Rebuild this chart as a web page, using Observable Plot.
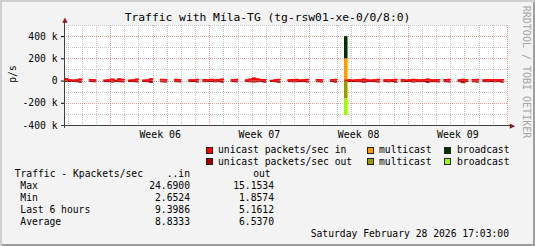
<!DOCTYPE html>
<html><head><meta charset="utf-8">
<script src="https://cdn.jsdelivr.net/npm/d3@7"></script>
<script src="https://cdn.jsdelivr.net/npm/@observablehq/plot@0.6"></script>
<style>
html,body{margin:0;padding:0;background:#fff}
#chart{position:relative;width:535px;height:246px;background:#f3f3f3;overflow:hidden;
  box-shadow: inset 2px 2px 0 #cfcfcf, inset -2px -2px 0 #9e9e9e;
  font-family:"DejaVu Sans Mono",monospace;font-size:9.7px;color:#000}
#chart svg{position:absolute;left:0;top:0}
.t{position:absolute;white-space:pre;line-height:12px}
.r{text-align:right}
.sq{position:absolute;width:5px;height:5px;border:1px solid #222}
</style></head>
<body>
<div id="chart"></div>
<script>
// ---- data (k packets/sec), one value per 6-hour slot starting Thu 29 Jan 2026 18:00; null = no data ----
const unicastIn = [
  20, 9, 8, 10, 16, null, null, 12, 10, null,
  null, 8, 9, 17, 6, 18, 14, null, 7, 9,
  16, null, 8, 10, 18, null, null, 15, 12, null,
  null, 14, 11, null, null, 9, 10, 15, null, 12,
  10, 15, 9, 11, 16, null, null, 11, 14, null,
  null, 10, 16, 24.69, 18, 11, 13, null, 6, 10,
  15, null, null, 9, 12, 14, 8, 10, 15, null,
  null, 13, 11, null, null, 12, 14, null, null, 10,
  9, 8, 11, 10, 17, 9, 8, 10, 14, null,
  9, 11, 10, 15, null, 12, 8, 9, 14, 10,
  9, 11, 16, 10, 9, 13, null, 12, 14, null,
  null, 10, 15, 11, null, 13, 14, null, 9, 12,
  10, 11, 9, 13, null
];
const unicastOut = [
  5, 4, 3, 6, 11, null, null, 5, 7, null,
  null, 4, 5, 9, 3, 6, 8, null, 4, 5,
  8, null, 4, 6, 12, null, null, 7, 9, null,
  null, 6, 8, null, null, 5, 4, 9, null, 6,
  5, 4, 7, 5, 10, null, null, 5, 8, null,
  null, 5, 7, 9, 6, 5, 10, null, 4, 6,
  11, null, null, 5, 7, 6, 4, 5, 9, null,
  null, 6, 9, null, null, 5, 10, null, null, 6,
  5, 4, 5, 6, 11, 5, 4, 6, 9, null,
  5, 7, 5, 10, null, 6, 4, 5, 9, 5,
  6, 4, 12, 5, 6, 8, null, 6, 9, null,
  null, 6, 15.15, 5, null, 7, 9, null, 5, 6,
  4, 7, 5, 10, null
];
// multicast / broadcast burst (only non-zero slot)
const burstSlot = [79];
const multicastIn = [190];
const broadcastIn = [200];
const multicastOut = [155];
const broadcastOut = [150];

const yMajor = [-400, -200, 0, 200, 400];
const yMinor = [-300, -100, 100, 300, 500];
const weekLabels = ["Week 06", "Week 07", "Week 08", "Week 09"];

const statLabels = ["Max", "Min", "Last 6 hours", "Average"];
const statIn = ["24.6900", "2.6524", "9.3986", "8.8333"];
const statOut = ["15.1534", "1.8574", "5.1612", "6.5370"];

const colors = {uin:"#ff0000", uout:"#a00000", min:"#ff9900", mout:"#999900", bin:"#003300", bout:"#99ff00"};

// ---- build tables ----
const H = 3600e3;
const t0 = new Date(Date.UTC(2026, 0, 29, 18));
const slotTime = i => new Date(+t0 + i * 6 * H);
const tEnd = slotTime(unicastIn.length);

function stepped(vals, sign) {
  const rows = [];
  vals.forEach((v, i) => {
    if (v == null) { rows.push({t: slotTime(i), lo: NaN, hi: NaN}); return; }
    rows.push({t: slotTime(i), lo: 0, hi: sign * v}, {t: slotTime(i + 1), lo: 0, hi: sign * v});
  });
  return rows;
}
function burst(baseVals, first, second, sign) {
  const a = [], b = [];
  burstSlot.forEach((s, k) => {
    const u = sign * baseVals[s], m = sign * first[k], bb = sign * second[k];
    a.push({t: slotTime(s), lo: u, hi: u + m}, {t: slotTime(s + 1), lo: u, hi: u + m});
    b.push({t: slotTime(s), lo: u + m, hi: u + m + bb}, {t: slotTime(s + 1), lo: u + m, hi: u + m + bb});
  });
  return [a, b];
}
const uin = stepped(unicastIn, 1), uout = stepped(unicastOut, -1);
const [minR, binR] = burst(unicastIn, multicastIn, broadcastIn, 1);
const [moutR, boutR] = burst(unicastOut, multicastOut, broadcastOut, -1);

const days = d3.utcDay.range(d3.utcDay.ceil(t0), tEnd).filter(d => d.getUTCDay() !== 1);
const mondays = d3.utcMonday.range(t0, new Date(+tEnd + 1));
const weekMid = weekLabels.map((w, i) => ({label: w, t: new Date(+mondays[i] + 3.5 * 24 * H)}));

const area = (rows, fill) => Plot.area(rows, {x1: "t", y1: "lo", y2: "hi", fill});
const edge = (rows, stroke, w) => Plot.line(rows, {x: "t", y: "hi", stroke, strokeWidth: w, strokeLinejoin: "miter", strokeLinecap: "butt"});

const plot = Plot.plot({
  width: 535, height: 140,
  marginLeft: 64, marginRight: 28, marginTop: 25, marginBottom: 15,
  style: {background: "transparent", fontFamily: "DejaVu Sans Mono", fontSize: "9.7px", color: "#000"},
  x: {type: "utc", domain: [t0, tEnd], axis: null},
  y: {domain: [-400, 500], ticks: yMajor, tickFormat: d => d === 0 ? "0" : `${d} k`, tickSize: 3, tickPadding: 4, label: null},
  marks: [
    Plot.frame({fill: "white", stroke: "none"}),
    Plot.ruleX(days, {stroke: "#c4c4c4", strokeDasharray: "1,1", shapeRendering: "crispEdges"}),
    Plot.ruleY(yMinor, {stroke: "#c4c4c4", strokeDasharray: "1,1", shapeRendering: "crispEdges"}),
    Plot.ruleX(mondays, {stroke: "#e39a9a", strokeDasharray: "1,1", shapeRendering: "crispEdges"}),
    Plot.ruleY(yMajor, {stroke: "#e39a9a", strokeDasharray: "1,1", shapeRendering: "crispEdges"}),
    area(uout, colors.uout),
    edge(uout, colors.uout, 1),
    area(uin, colors.uin),
    edge(uin, colors.uin, 1.4),
    area(minR, colors.min),
    area(binR, colors.bin),
    area(moutR, colors.mout),
    area(boutR, colors.bout),
    Plot.ruleX([t0], {stroke: "#404040", insetTop: -5, insetBottom: -3, shapeRendering: "crispEdges"}),
    Plot.ruleY([-400], {stroke: "#404040", insetLeft: -3, insetRight: -4, shapeRendering: "crispEdges"}),
    Plot.text(["▲"], {frameAnchor: "top-left", textAnchor: "middle", lineAnchor: "middle", dx: 0.5, dy: -6, fill: "#8b1a1a", fontSize: 7, fontFamily: "DejaVu Sans"}),
    Plot.text(["▶"], {frameAnchor: "bottom-right", textAnchor: "middle", lineAnchor: "middle", dx: 5, dy: 0.5, fill: "#8b1a1a", fontSize: 7, fontFamily: "DejaVu Sans"}),
    Plot.text(weekMid, {x: "t", frameAnchor: "bottom", text: "label", lineAnchor: "middle", dy: 9, fontSize: 9.9})
  ]
});
const chart = document.getElementById("chart");
chart.appendChild(plot);

// ---- texts around the plot ----
function txt(s, css, cls = "t") {
  const d = document.createElement("div");
  d.className = cls; d.textContent = s; d.style.cssText = css; chart.appendChild(d); return d;
}
txt("Traffic with Míla-TG (tg-rsw01-xe-0/0/8:0)", "left:0;width:535px;text-align:center;top:10.5px;font-size:11.3px;line-height:13px");
txt("p/s", "left:12.5px;top:74px;transform:translate(-50%,-50%) rotate(-90deg)");
txt("RRDTOOL / TOBI OETIKER", "left:526px;top:71.5px;transform:translate(-50%,-50%) rotate(90deg);color:#a4a4a4;font-size:10px");

// legend
const legend = [
  {label: "unicast packets/sec in", c: colors.uin, sx: 205.5, tx: 218, row: 0},
  {label: "multicast", c: colors.min, sx: 366.5, tx: 379, row: 0},
  {label: "broadcast", c: colors.bin, sx: 444, tx: 457, row: 0},
  {label: "unicast packets/sec out", c: colors.uout, sx: 205.5, tx: 218, row: 1},
  {label: "multicast", c: colors.mout, sx: 366.5, tx: 379, row: 1},
  {label: "broadcast", c: colors.bout, sx: 444, tx: 457, row: 1}
];
legend.forEach(l => {
  const cy = l.row ? 161.6 : 150;
  const s = document.createElement("div");
  s.className = "sq"; s.style.left = l.sx + "px"; s.style.top = (cy - 3.5) + "px"; s.style.background = l.c;
  chart.appendChild(s);
  txt(l.label, `left:${l.tx}px;top:${cy - 5.8}px`);
});

// stats table
txt("Traffic - Kpackets/sec", "left:14.7px;top:168.2px");
txt("..in", "right:345px;top:168.2px", "t r");
txt("out", "right:264.3px;top:168.2px", "t r");
statLabels.forEach((s, i) => {
  const top = 180.2 + i * 11.8;
  txt(s, `left:20.3px;top:${top}px`);
  txt(statIn[i], `right:345px;top:${top}px`, "t r");
  txt(statOut[i], `right:261px;top:${top}px`, "t r");
});
txt("Saturday February 28 2026 17:03:00", "right:26px;top:227.7px", "t r");
</script>
</body></html>
